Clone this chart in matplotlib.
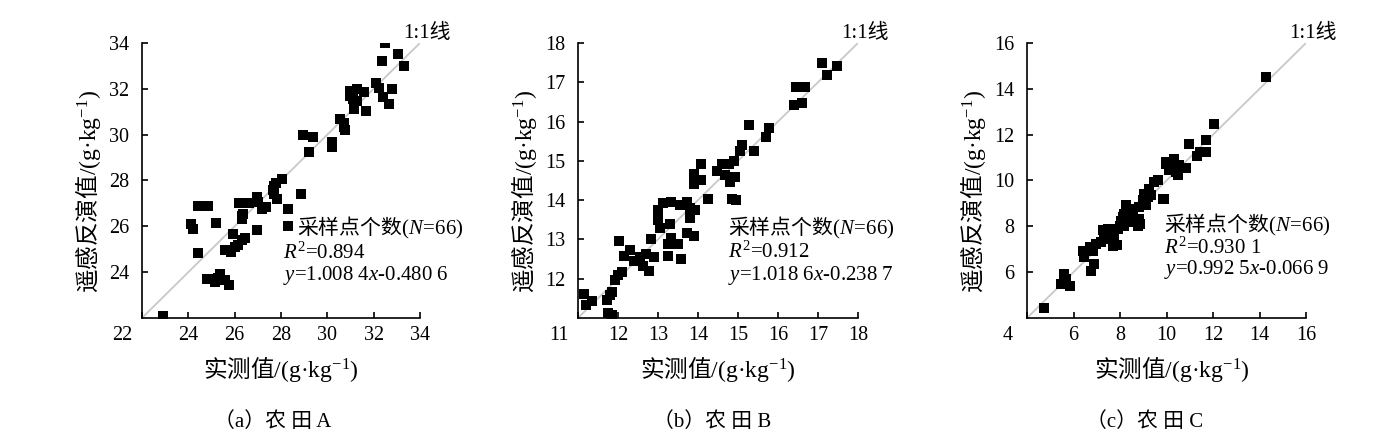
import matplotlib

matplotlib.use("Agg")
import matplotlib.pyplot as plt
from matplotlib.transforms import ScaledTranslation

plt.rcParams["font.family"] = ["Liberation Serif", "Noto Sans CJK SC"]
plt.rcParams["mathtext.fontset"] = "custom"
plt.rcParams["mathtext.rm"] = "Liberation Serif"
plt.rcParams["mathtext.it"] = "Liberation Serif:italic"

# mathtext strings take their plain part from the first family only,
# so strings that mix Chinese and math use the CJK family for the plain part
CJK = "Noto Sans CJK SC"

a_measured = [22.9, 24.1, 24.2, 24.4, 24.85, 25.2, 24.4, 24.8, 25.0, 25.15, 25.35, 25.6, 25.75,
              25.3, 25.6, 25.85, 26.0, 26.15, 25.95, 26.3, 26.45, 26.3, 26.3, 26.2, 26.6, 26.95,
              27.0, 27.2, 27.35, 26.95, 27.65, 27.7, 27.85, 28.05, 27.8, 28.3, 28.3, 28.85, 28.95,
              29.4, 29.2, 30.2, 30.2, 30.55, 30.7, 30.75, 30.7, 31.0, 31.0, 31.3, 31.6, 31.3,
              31.15, 31.65, 31.1, 32.1, 32.25, 32.8, 32.4, 32.65, 32.5, 32.35, 33.05, 33.3, 27.7,
              26.35]
a_predicted = [22.1, 26.1, 25.9, 26.9, 26.9, 26.15, 24.85, 23.7, 23.7, 23.55, 23.9, 23.65, 23.45,
               23.75, 24.95, 24.9, 25.1, 25.2, 25.65, 25.4, 25.5, 26.45, 26.3, 27.0, 27.0, 27.3,
               27.05, 26.75, 26.85, 25.85, 27.6, 27.4, 27.2, 28.05, 27.9, 26.75, 26.0, 27.4, 30.0,
               29.9, 29.25, 29.7, 29.45, 30.7, 30.5, 30.2, 30.35, 31.9, 31.7, 32.0, 31.85, 31.45,
               31.1, 31.05, 31.55, 32.25, 32.05, 32.0, 31.65, 31.35, 34.0, 33.2, 33.5, 33.0, 27.75,
               26.55]

b_measured = [11.15, 11.2, 11.35, 11.72, 11.8, 11.85, 11.75, 11.85, 11.92, 12.0, 12.1, 12.02, 12.14,
              12.3, 12.4, 12.55, 12.62, 12.7, 12.78, 12.82, 12.9, 12.99, 13.12, 13.33, 13.55, 13.72,
              13.8, 12.99, 13.04, 13.29, 13.33, 13.25, 13.5, 13.72, 13.89, 13.8, 13.93, 13.25, 13.58,
              14.08, 13.91, 13.91, 14.25, 14.08, 14.47, 14.6, 14.68, 14.78, 14.81, 14.85, 14.95, 14.93,
              14.89, 15.06, 15.1, 15.4, 15.27, 15.7, 15.78, 16.4, 16.6, 16.46, 16.68, 17.1, 17.23,
              17.48]
b_predicted = [11.6, 11.33, 11.43, 11.46, 11.58, 11.67, 11.12, 11.08, 11.96, 12.1, 12.17, 12.96, 12.58,
               12.72, 12.46, 12.55, 12.33, 12.62, 12.2, 13.0, 12.55, 13.75, 13.92, 13.96, 13.88, 13.96,
               13.79, 13.5, 13.29, 13.38, 13.04, 12.88, 12.88, 13.17, 13.08, 13.54, 13.75, 12.58, 12.5,
               14.92, 14.67, 14.42, 14.04, 14.5, 14.75, 14.92, 14.63, 14.92, 14.46, 14.02, 14.0, 14.6,
               15.0, 15.25, 15.4, 15.25, 15.92, 15.6, 15.83, 16.43, 16.46, 16.89, 16.89, 17.48, 17.19,
               17.42]

c_measured = [4.75, 5.47, 5.61, 5.83, 5.68, 6.76, 6.9, 6.4, 6.47, 6.69, 6.83, 6.97, 7.18, 7.33, 7.26,
              7.4, 7.55, 7.61, 7.69, 7.47, 7.76, 7.9, 8.04, 8.12, 8.19, 8.33, 8.4, 8.55, 8.69, 8.76,
              8.83, 8.26, 8.4, 8.55, 8.19, 8.83, 8.97, 9.05, 9.19, 9.26, 9.33, 9.48, 9.62, 9.83, 9.12,
              9.97, 10.19, 10.33, 10.4, 10.55, 10.83, 10.48, 10.98, 14.3, 12.03, 11.68, 11.32, 11.46,
              11.68, 10.1, 9.96, 9.89, 7.85, 7.7, 8.0, 8.85]
c_predicted = [4.45, 5.49, 5.93, 5.41, 5.71, 6.05, 6.36, 6.94, 6.66, 7.09, 6.94, 7.24, 7.31, 7.6, 7.82,
               7.75, 7.45, 7.67, 7.89, 7.89, 7.53, 7.89, 8.25, 8.4, 8.03, 8.33, 8.18, 8.47, 8.25, 8.03,
               8.33, 8.91, 8.76, 8.62, 8.55, 8.84, 9.13, 9.42, 9.28, 9.64, 9.35, 9.93, 10.0, 9.2, 8.91,
               10.8, 10.51, 10.95, 10.37, 10.66, 10.54, 10.22, 11.6, 14.5, 12.45, 11.78, 11.09, 11.24,
               11.24, 10.44, 10.73, 9.2, 7.2, 7.15, 8.0, 8.1]

panels = [
    dict(x=a_measured, y=a_predicted, lim=(22, 34), xticks=range(22, 35, 2), yticks=range(24, 35, 2),
         r2="0.894", eq="1.008 4$x$-0.480 6", caption="（a）农 田 A",
         pos=[0.1028, 0.2838, 0.2013, 0.6194], ann=(0.558, 0.507), ann_y=(0.328, 0.235, 0.156),
         cap_x=0.1977, xlab_x=0.5),
    dict(x=b_measured, y=b_predicted, lim=(11, 18), xticks=range(11, 19), yticks=range(12, 19),
         r2="0.912", eq="1.018 6$x$-0.238 7", caption="（b）农 田 B",
         pos=[0.4185, 0.2838, 0.2028, 0.6194], ann=(0.536, 0.536), ann_y=(0.326, 0.241, 0.156),
         cap_x=0.5156, xlab_x=0.5),
    dict(x=c_measured, y=c_predicted, lim=(4, 16), xticks=range(4, 17, 2), yticks=range(6, 17, 2),
         r2="0.930 1", eq="0.992 5$x$-0.066 9", caption="（c）农 田 C",
         pos=[0.7437, 0.2838, 0.2020, 0.6194], ann=(0.491, 0.491), ann_y=(0.338, 0.253, 0.175),
         cap_x=0.829, xlab_x=0.52),
]

unit = r"$\mathrm{/(g·kg^{-1})}$"

fig = plt.figure(figsize=(13.81, 4.44), dpi=100)

for p in panels:
    ax = fig.add_axes(p["pos"])
    lo, hi = p["lim"]
    ax.plot([lo, hi], [lo, hi], color="#c8c8c8", lw=1.3, zorder=1)
    ax.scatter(p["x"], p["y"], marker="s", s=50, color="black", linewidths=0, zorder=2)
    ax.set_xlim(lo, hi)
    ax.set_ylim(lo, hi)
    ax.set_xticks(list(p["xticks"]))
    ax.set_yticks(list(p["yticks"]))
    for side in ("top", "right"):
        ax.spines[side].set_visible(False)
    for side in ("left", "bottom"):
        ax.spines[side].set_linewidth(1.2)
    ax.tick_params(direction="in", length=4, width=1.2, labelsize=14.5)
    ax.tick_params(axis="x", pad=6)
    ax.tick_params(axis="y", pad=9)

    # corner label sits left of the origin, as in the original
    first = ax.xaxis.get_major_ticks()[0].label1
    first.set_transform(first.get_transform() + ScaledTranslation(-14 / 72, 0, fig.dpi_scale_trans))

    ax.set_xlabel("实测值" + unit, fontsize=17, family=CJK)
    ax.set_ylabel("遥感反演值" + unit, fontsize=17, family=CJK)
    ax.xaxis.set_label_coords(p["xlab_x"], -0.135)
    ax.yaxis.set_label_coords(-0.14, 0.46)

    ax.text(0.94, 1.035, "1:1线", transform=ax.transAxes, fontsize=15, ha="left", va="center")

    ax.text(p["ann"][0], p["ann_y"][0], r"采样点个数$(N\!=\!66)$", transform=ax.transAxes,
            fontsize=15, ha="left", va="center", family=CJK)
    ax.text(p["ann"][1], p["ann_y"][1], "$R^{2}$=" + p["r2"], transform=ax.transAxes,
            fontsize=15, ha="left", va="center")
    ax.text(p["ann"][1], p["ann_y"][2], "$y$=" + p["eq"], transform=ax.transAxes,
            fontsize=15, ha="left", va="center")

    fig.text(p["cap_x"], 0.0495, p["caption"], fontsize=15, ha="center", va="center")

fig.savefig("out.png", dpi=100)
plt.close(fig)
